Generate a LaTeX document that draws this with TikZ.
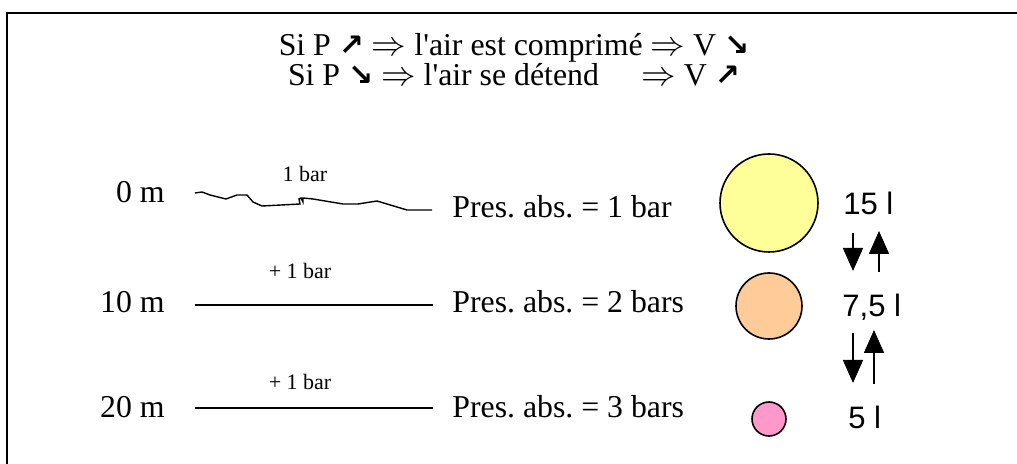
\documentclass[tikz,border=0pt]{standalone}
\usepackage{fontspec}
\setmainfont{Liberation Serif}[Ligatures=TeXOff]
\newfontfamily\arialf{Liberation Sans}
\newfontfamily\symf{DejaVu Sans Bold}
\usetikzlibrary{arrows.meta}
\definecolor{cyel}{HTML}{FFFF99}
\definecolor{corg}{HTML}{FFCC99}
\definecolor{cpnk}{HTML}{FF99CC}
\frenchspacing
\newcommand{\neArr}{{\symf\fontsize{15pt}{15pt}\selectfont ↗}}
\newcommand{\seArr}{{\symf\fontsize{15pt}{15pt}\selectfont ↘}}
\begin{document}
\begin{tikzpicture}[x=0.5pt,y=-0.5pt,
  big/.style={inner sep=0pt,font=\fontsize{15.9pt}{18pt}\selectfont},
  small/.style={inner sep=0pt,font=\fontsize{11pt}{13pt}\selectfont},
  vol/.style={inner sep=0pt,font=\arialf\fontsize{15.5pt}{18pt}\selectfont},
  level/.style={line width=0.7pt},
  ball/.style={circle,draw,line width=0.8pt,inner sep=0pt},
  varr/.style={line width=0.8pt,-{Triangle[width=10pt,length=11.5pt]}}]
\useasboundingbox (0,0) rectangle (1017,464);
% frame
\draw[line width=1.1pt] (7,464) -- (7,13) -- (1017,13);
% heading
\node[inner sep=0pt,font=\fontsize{15.9pt}{15pt}\selectfont,align=center,anchor=center] (head) at (514,60)
  {Si P \neArr{} $\Rightarrow$ l'air est comprimé $\Rightarrow$ V \seArr\\
   \makebox[226pt]{Si P \seArr{} $\Rightarrow$ l'air se détend\hfill$\Rightarrow$ V \neArr}};
% depth labels
\node[big,anchor=base east] (d0) at (165,203) {0 m};
\node[big,anchor=base east] (d10) at (165,313) {10 m};
\node[big,anchor=base east] (d20) at (165,417) {20 m};
% surface (wavy)
\coordinate (s0) at (195,193);
\coordinate (s1) at (432,210);
\draw[level] (s0) -- (202,192) -- (210,195) -- (226,199) -- (237,195) -- (247,195) -- (253,202) -- (262,206) -- (300,204) -- (299,199) -- (301,198) -- (303,202) -- (303,198) -- (313,199) -- (343,204) -- (358,204) -- (377,201) -- (407,210) -- (s1);
\node[small,anchor=base] (b0) at (305,182) {1 bar};
% 10 m
\coordinate (l10a) at (195,305);
\coordinate (l10b) at (433,305);
\draw[level] (l10a) -- (l10b);
\node[small,anchor=base] (b10) at (300,279) {+ 1 bar};
% 20 m
\coordinate (l20a) at (195,408);
\coordinate (l20b) at (433,408);
\draw[level] (l20a) -- (l20b);
\node[small,anchor=base] (b20) at (300,390) {+ 1 bar};
% pressures
\node[big,anchor=base west] (p0) at (452,218) {Pres. abs. = 1 bar};
\node[big,anchor=base west] (p10) at (452,313) {Pres. abs. = 2 bars};
\node[big,anchor=base west] (p20) at (452,417) {Pres. abs. = 3 bars};
% balloons
\node[ball,fill=cyel,minimum size=49pt] (c0) at (769,203) {};
\node[ball,fill=corg,minimum size=33pt] (c10) at (769,306) {};
\node[ball,fill=cpnk,minimum size=17pt] (c20) at (769,419) {};
% volumes
\node[vol,anchor=base west] (v0) at (843,215) {15 l};
\node[vol,anchor=base west] (v10) at (842,317) {7,5 l};
\node[vol,anchor=base west] (v20) at (848,429) {5 l};
% arrows
\coordinate (a1t) at (853,233);
\coordinate (a1b) at (853,271);
\coordinate (a2b) at (879,272);
\coordinate (a2t) at (879,231);
\coordinate (a3t) at (853,333);
\coordinate (a3b) at (853,383);
\coordinate (a4b) at (874,384);
\coordinate (a4t) at (874,330);
\draw[varr] (a1t) -- (a1b);
\draw[varr] (a2b) -- (a2t);
\draw[varr] (a3t) -- (a3b);
\draw[varr] (a4b) -- (a4t);
\end{tikzpicture}
\end{document}
